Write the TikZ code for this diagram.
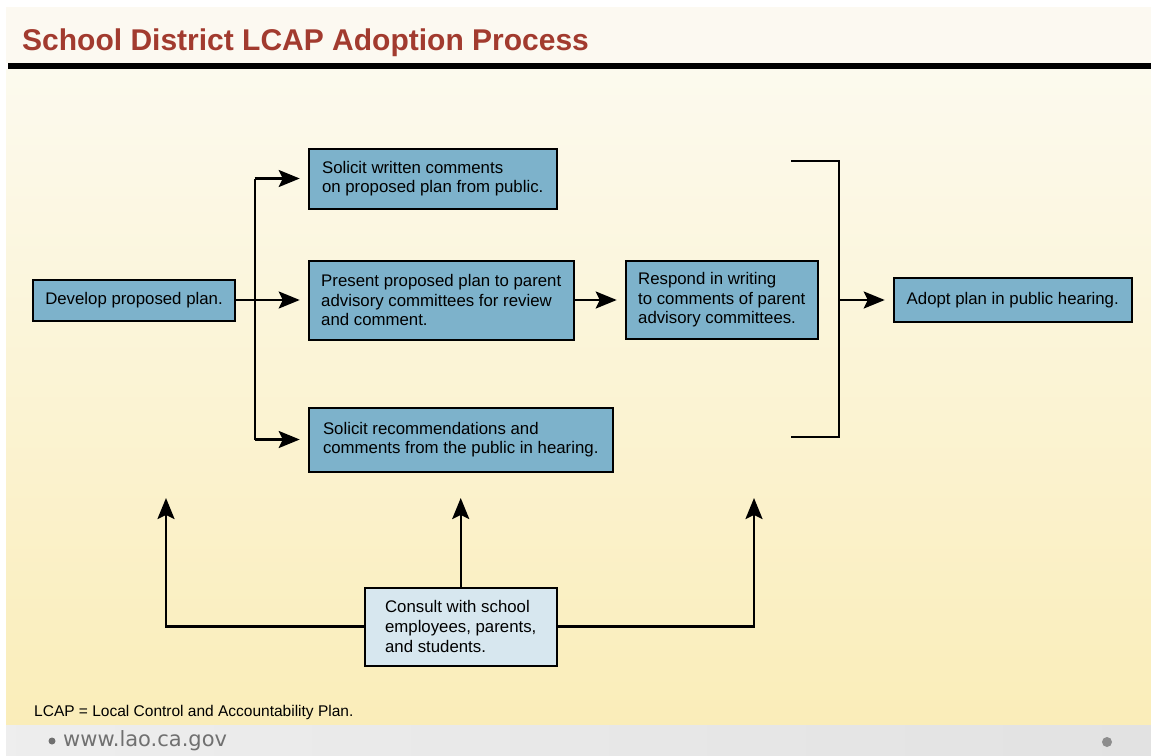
\documentclass[tikz,border=0pt]{standalone}
\usepackage{fontspec}
\setmainfont{Liberation Sans}
\newfontfamily\webfont{DejaVu Sans}
\usetikzlibrary{arrows.meta,positioning,calc}
\definecolor{slate}{HTML}{7DB2CB}
\definecolor{mist}{HTML}{D7E7EF}
\definecolor{brick}{HTML}{A23B2F}
\definecolor{cream}{HTML}{FCFAEE}
\definecolor{butter}{HTML}{FAEDB9}
\definecolor{shell}{HTML}{FCF9F1}
\definecolor{ash}{HTML}{E2E2E2}
\definecolor{webgray}{HTML}{707070}

\begin{document}
\begin{tikzpicture}[x=1pt,y=1pt,
 box/.style={draw=black,line width=2pt,fill=slate,align=left,inner xsep=12pt,font=\fontsize{16.8}{19.6}\selectfont},
 arr/.style={-{Stealth[length=21pt,width=17pt,inset=4pt]},line width=2.4pt},
 bar/.style={line width=2.4pt}
]
% slide background
\useasboundingbox (0,0) rectangle (1151,-755);
\fill[white] (0,0) rectangle (1151,-755);
\fill[shell] (6,-7) rectangle (1151,-63);
\shade[top color=cream,bottom color=butter] (6,-69) rectangle (1151,-725);
\fill[black] (8,-63) rectangle (1151,-69);
\shade[left color=ash!60,right color=ash] (6,-725) rectangle (1151,-755);
\node[anchor=base west,inner sep=0,text=brick,font=\fontsize{30}{36}\selectfont\bfseries] (title) at (22,-50) {School District LCAP Adoption Process};
% steps
\node[box,minimum width=200pt,minimum height=41pt] (develop) at (134,-300) {Develop proposed plan.};
\node[box,minimum width=265pt,minimum height=79pt,right=72pt of develop] (present) {Present proposed plan to parent\\advisory committees for review\\and comment.};
\node[box,minimum width=248pt,minimum height=60pt,above=50pt of present.north west,anchor=south west] (solicitW) {Solicit written comments\\on proposed plan from public.};
\node[box,minimum width=304pt,minimum height=64pt,below=66pt of present.south west,anchor=north west] (solicitR) {Solicit recommendations and\\comments from the public in hearing.};
\node[box,minimum width=192pt,minimum height=78pt,right=50pt of present] (respond) {Respond in writing\\to comments of parent\\advisory committees.};
\node[box,minimum width=238pt,minimum height=44pt,right=74pt of respond] (adopt) {Adopt plan in public hearing.};
\node[box,fill=mist,minimum width=192pt,minimum height=78pt,below=114pt of solicitR] (consult) {Consult with school\\employees, parents,\\and students.};
% fork out of the plan
\coordinate (fork) at ($(develop.east)+(19,0)$);
\draw[bar] (fork |- solicitW) -- (fork |- solicitR);
\draw[arr,shorten >=8pt] (develop) -- (present);
\draw[arr,shorten >=8pt] (fork |- solicitW) -- (solicitW);
\draw[arr,shorten >=8pt] (fork |- solicitR) -- (solicitR);
\draw[arr,shorten >=8pt] (present) -- (respond);
% bracket into adoption
\coordinate (brtop) at (791,-161);
\coordinate (brbot) at (791,-437);
\coordinate (brx) at ($(respond.east)+(20,0)$);
\draw[bar] (brtop) -- (brtop -| brx) -- (brbot -| brx) -- (brbot);
\draw[arr,shorten >=8pt] (brx |- adopt) -- (adopt);
% consultation feeds every stage
\coordinate (upL) at (166,-498);
\coordinate (upR) at (754,-498);
\coordinate (upM) at (consult.north |- upL);
\draw[arr] (consult.west) -| (upL);
\draw[arr] (consult) -- (upM);
\draw[arr] (consult.east) -| (upR);
% footnote and footer
\node[anchor=base west,inner sep=0,font=\fontsize{15.5}{18}\selectfont] (note) at (34,-716) {LCAP = Local Control and Accountability Plan.};
\fill[webgray] (52,-741) circle (3.5);
\node[anchor=west,inner sep=0,text=webgray,font=\webfont\fontsize{21}{25}\selectfont] (site) at (63,-741) {www.lao.ca.gov};
\fill[webgray!80] (1107,-742) circle (5);
\end{tikzpicture}
\end{document}
